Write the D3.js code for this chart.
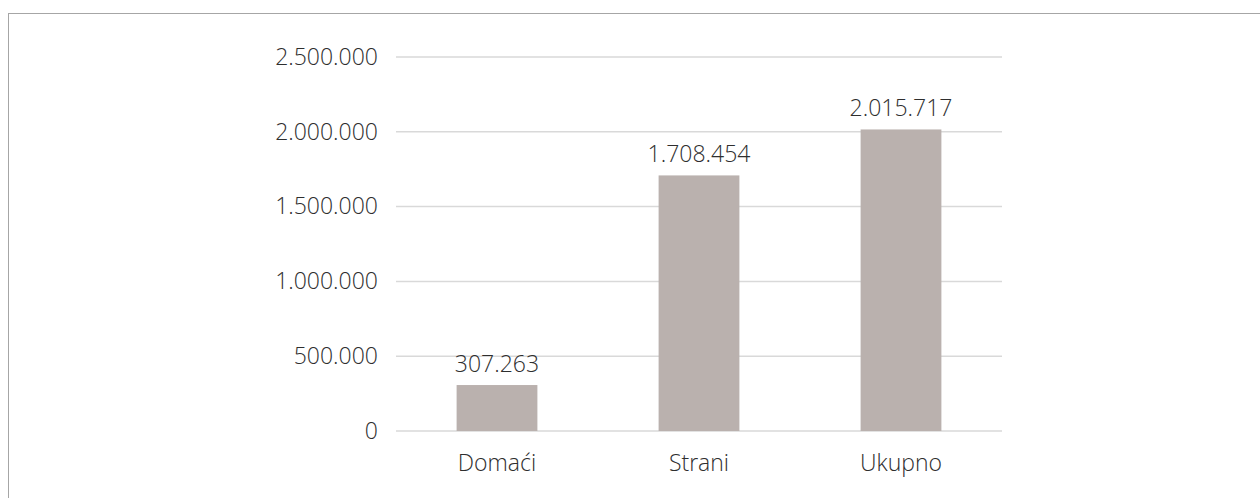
<!DOCTYPE html>
<html>
<head>
<meta charset="utf-8">
<script src="https://cdn.jsdelivr.net/npm/d3@7"></script>
<style>
html,body{margin:0;padding:0;background:#fff;}
svg{display:block;}
text{font-family:"Open Sans",Lato,sans-serif;font-weight:300;fill:#2e2e2e;}
</style>
</head>
<body>
<svg id="chart" width="1260" height="498"></svg>
<script>
const categories = ["Domaći", "Strani", "Ukupno"];
const values = [307263, 1708454, 2015717];
const yTicks = [0, 500000, 1000000, 1500000, 2000000, 2500000];

(function () {
const svg = d3.select("#chart");
const W = 1260, H = 498;
const FONT = "'Open Sans', Lato, sans-serif";
const FS = 23;
const TXT = "#2e2e2e";

svg.append("rect")
  .attr("x", 8.5).attr("y", 13.5)
  .attr("width", W).attr("height", H)
  .attr("fill", "none").attr("stroke", "#a6a6a6").attr("stroke-width", 1);

const pLeft = 396, pRight = 1002, pTop = 57, pBottom = 431;

const x = d3.scaleBand().domain(categories).range([pLeft, pRight]).paddingInner(0.6).paddingOuter(0.3);
const y = d3.scaleLinear().domain([0, 2500000]).range([pBottom, pTop]);

const fmt = v => d3.format(",")(v).replace(/,/g, ".");

// gridlines
svg.append("g").selectAll("line").data(yTicks).join("line")
  .attr("x1", pLeft).attr("x2", pRight)
  .attr("y1", d => y(d)).attr("y2", d => y(d))
  .attr("stroke", "#d9d9d9").attr("stroke-width", 1.5);

// y axis labels
const yAxis = d3.axisLeft(y).tickValues(yTicks).tickFormat(fmt).tickSize(0).tickPadding(18);
const gy = svg.append("g").attr("transform", `translate(${pLeft},0)`).call(yAxis);
gy.select(".domain").remove();
gy.selectAll("text").attr("font-size", FS).style("font-family", FONT).style("font-weight", 300).attr("fill", TXT);

// bars
svg.append("g").selectAll("rect").data(values).join("rect")
  .attr("x", (d, i) => x(categories[i]))
  .attr("width", x.bandwidth())
  .attr("y", d => y(d))
  .attr("height", d => y(0) - y(d))
  .attr("fill", "#bab1ae");

// value labels
svg.append("g").selectAll("text").data(values).join("text")
  .attr("x", (d, i) => x(categories[i]) + x.bandwidth() / 2)
  .attr("y", d => y(d) - 13)
  .attr("text-anchor", "middle")
  .attr("font-size", FS)
  .text(d => fmt(d));

// x axis labels
const xAxis = d3.axisBottom(x).tickSize(0).tickPadding(24);
const gx = svg.append("g").attr("transform", `translate(0,${pBottom})`).call(xAxis);
gx.select(".domain").remove();
gx.selectAll("text").attr("font-size", FS).style("font-family", FONT).style("font-weight", 300).attr("fill", TXT);
})();
</script>
</body>
</html>
